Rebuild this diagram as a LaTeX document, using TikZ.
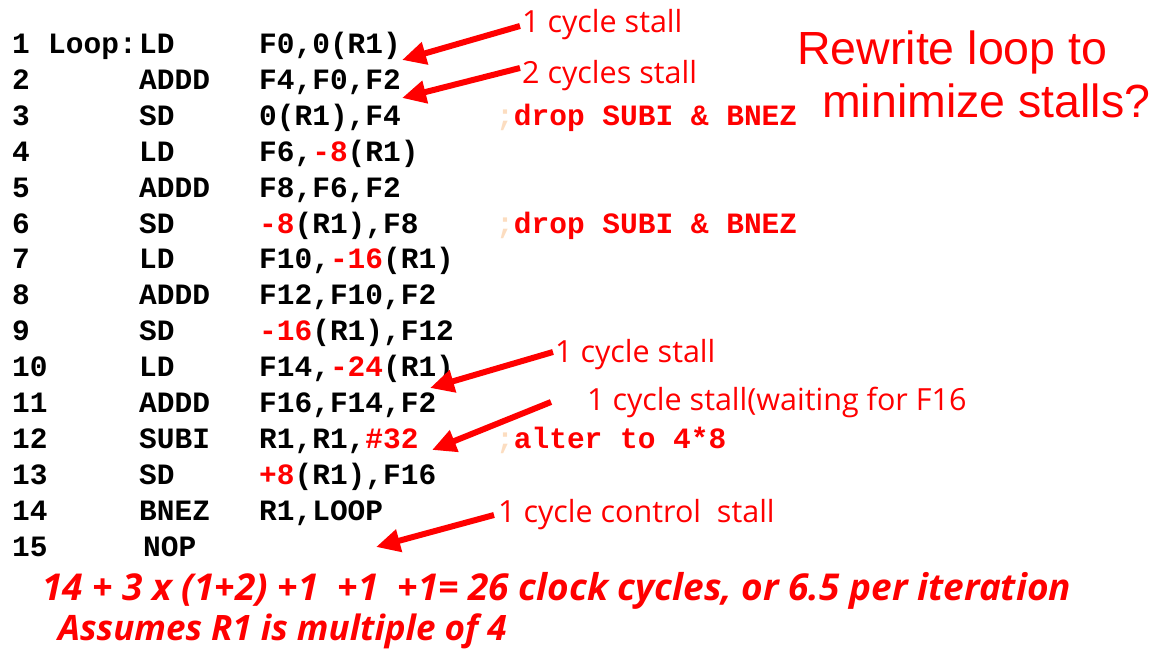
\documentclass[tikz,border=0pt]{standalone}
\usepackage{fontspec}
\setmainfont{Liberation Sans}
\setmonofont{Liberation Mono}
\newfontfamily\annfont{Open Sans}
\usetikzlibrary{arrows.meta}
\definecolor{rd}{HTML}{FF0000}
\definecolor{semi}{HTML}{FCDDC0}
\tikzset{
  code/.style={anchor=base west, inner sep=0pt, font=\ttfamily\bfseries\fontsize{29.5}{30}\selectfont},
  cmt/.style={code, text=rd},
  ann/.style={anchor=base west, inner sep=0pt, text=rd, font=\annfont\fontsize{30.5}{32}\selectfont},
  big/.style={anchor=base west, inner sep=0pt, text=rd, font=\fontsize{46.5}{48}\selectfont},
  sumtxt/.style={anchor=base west, inner sep=0pt, text=rd, font=\annfont\bfseries\itshape\fontsize{37}{38}\selectfont},
  stallarrow/.style={draw=rd, line width=6pt, -{Triangle[length=24pt,width=22pt]}}
}
\newcommand{\rt}[1]{\textcolor{rd}{#1}}
\begin{document}
\begin{tikzpicture}[x=1pt,y=-1pt]
\useasboundingbox (0,0) rectangle (1151,658);
% rows
\foreach \i/\n/\op/\arg in {
  1/1/LD/{F0,0(R1)},
  2/2/ADDD/{F4,F0,F2},
  3/3/SD/{0(R1),F4},
  4/4/LD/{F6,\rt{-8}(R1)},
  5/5/ADDD/{F8,F6,F2},
  6/6/SD/{\rt{-8}(R1),F8},
  7/7/LD/{F10,\rt{-16}(R1)},
  8/8/ADDD/{F12,F10,F2},
  9/9/SD/{\rt{-16}(R1),F12},
  10/10/LD/{F14,\rt{-24}(R1)},
  11/11/ADDD/{F16,F14,F2},
  12/12/SUBI/{R1,R1,\rt{\#32}},
  13/13/SD/{\rt{+8}(R1),F16},
  14/14/BNEZ/{R1,LOOP}}
{
  \pgfmathsetmacro{\yb}{53.4+(\i-1)*35.93}
  \node[code] (n\i) at (12,\yb) {\n};
  \node[code] (o\i) at (139,\yb) {\op};
  \node[code] (a\i) at (259,\yb) {\arg};
}
\node[code] (n15) at (12,{53.4+14*35.93}) {15};
\node[code] (o15) at (143,{53.4+14*35.93}) {NOP};
\node[code] (loop) at (48,53.4) {Loop:};
% comments
\node[cmt] (c3) at (496,{53.4+2*35.93}) {\textcolor{semi}{;}drop SUBI \& BNEZ};
\node[cmt] (c6) at (496,{53.4+5*35.93}) {\textcolor{semi}{;}drop SUBI \& BNEZ};
\node[cmt] (c12) at (496,{53.4+11*35.93}) {\textcolor{semi}{;}alter to 4*8};
% annotations
\node[ann] (s1) at (522,33) {1 cycle stall};
\node[ann] (s2) at (522,84) {2 cycles stall};
\node[ann] (s10) at (555,362) {1 cycle stall};
\node[ann] (s11) at (587,410) {1 cycle stall(waiting for F16};
\node[ann] (s14) at (498,522) {1 cycle control\ \ stall};
\node[big] (rw1) at (797,65) {Rewrite loop to};
\node[big] (rw2) at (822,118) {minimize stalls?};
\node[sumtxt] (sum) at (42,600) {14 + 3 x (1+2) +1\ \ +1\ \ +1= 26 clock cycles, or 6.5 per iteration};
\node[sumtxt, font=\annfont\bfseries\itshape\fontsize{35}{36}\selectfont] (asm) at (58,640) {Assumes R1 is multiple of 4};
% arrow endpoints
\coordinate (t1) at (402,60);
\coordinate (t2) at (402,98);
\coordinate (t10) at (430,388);
\coordinate (t12) at (432,450);
\coordinate (t15) at (376,547);
\draw[stallarrow] (s1.base west) ++(-2,-7) -- (t1);
\draw[stallarrow] (s2.base west) ++(-2,-16) -- (t2);
\draw[stallarrow] (s10.base west) ++(-2,-10) -- (t10);
\draw[stallarrow] (s11.base west) ++(-36,-8) -- (t12);
\draw[stallarrow] (s14.base west) ++(-4,-7) -- (t15);
\end{tikzpicture}
\end{document}
